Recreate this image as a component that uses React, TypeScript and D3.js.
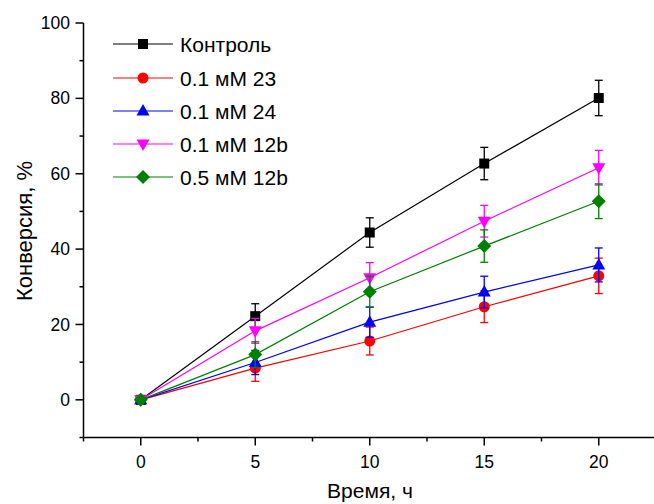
import React from "react";
import * as d3 from "d3";

const times = [0, 5, 10, 15, 20];
const seriesNames = ["Контроль", "0.1 мМ 23", "0.1 мМ 24", "0.1 мМ 12b", "0.5 мМ 12b"];
const seriesColors = ["#000000", "#ff0000", "#0000ff", "#ff00ff", "#008000"];
const seriesSymbols = ["square", "circle", "triangleUp", "triangleDown", "diamond"];
const control = [0, 22.2, 44.4, 62.7, 80.1];
const controlErr = [0, 3.3, 3.9, 4.3, 4.7];
const mM23 = [0, 8.4, 15.6, 24.7, 32.9];
const mM23Err = [0, 3.5, 3.7, 4.2, 4.7];
const mM24 = [0, 9.9, 20.6, 28.6, 35.8];
const mM24Err = [0, 3.2, 4.0, 4.2, 4.5];
const mM12b01 = [0, 18.3, 32.4, 47.4, 61.6];
const mM12b01Err = [0, 3.3, 4.0, 4.2, 4.6];
const mM12b05 = [0, 12.0, 28.7, 40.8, 52.7];
const mM12b05Err = [0, 3.4, 4.1, 4.3, 4.6];
const xTicks = [0, 5, 10, 15, 20];
const yTicks = [0, 20, 40, 60, 80, 100];
const xTitle = "Время, ч";
const yTitle = "Конверсия, %";

const allValues = [control, mM23, mM24, mM12b01, mM12b05];
const allErrs = [controlErr, mM23Err, mM24Err, mM12b01Err, mM12b05Err];

function Marker({ type, x, y, color }: { type: string; x: number; y: number; color: string }) {
  if (type === "square") return <rect x={x - 5} y={y - 5} width={10} height={10} fill={color} />;
  if (type === "circle") return <circle cx={x} cy={y} r={5.5} fill={color} />;
  if (type === "triangleUp")
    return <path d={`M${x},${y - 7}L${x + 6.5},${y + 4.5}L${x - 6.5},${y + 4.5}Z`} fill={color} />;
  if (type === "triangleDown")
    return <path d={`M${x},${y + 7}L${x + 6.5},${y - 4.5}L${x - 6.5},${y - 4.5}Z`} fill={color} />;
  return <path d={`M${x},${y - 7}L${x + 7},${y}L${x},${y + 7}L${x - 7},${y}Z`} fill={color} />;
}

export default function App() {
  const W = 654, H = 504;
  const x = d3.scaleLinear().domain([-2.5, 22.5]).range([83.5, 656]);
  const y = d3.scaleLinear().domain([-10, 100]).range([437.5, 23]);
  const font = "Arial, 'Liberation Sans', sans-serif";
  const line = d3.line<[number, number]>().x((d) => x(d[0])).y((d) => y(d[1]));
  const xMinor = d3.range(-2.5, 23, 2.5).filter((v) => !xTicks.includes(v));
  const yMinor = d3.range(-10, 101, 10).filter((v) => !yTicks.includes(v));
  const legendY = [44, 78, 111, 144, 177];

  return (
    <svg width={W} height={H} style={{ position: "absolute", left: 0, top: 0 }} fontFamily={font}>
      <rect width={W} height={H} fill="#fff" />
      {/* axes */}
      <line x1={83.5} x2={83.5} y1={23} y2={437.5} stroke="#000" strokeWidth={1.5} />
      <line x1={83.5} x2={656} y1={437.5} y2={437.5} stroke="#000" strokeWidth={1.5} />
      {yTicks.map((t) => (
        <g key={"yt" + t}>
          <line x1={75.5} x2={83.5} y1={y(t)} y2={y(t)} stroke="#000" strokeWidth={1.5} />
          <text x={70} y={y(t)} dy="0.35em" textAnchor="end" fontSize={17.5}>{t}</text>
        </g>
      ))}
      {yMinor.map((t) => (
        <line key={"ym" + t} x1={79.5} x2={83.5} y1={y(t)} y2={y(t)} stroke="#000" strokeWidth={1.5} />
      ))}
      {xTicks.map((t) => (
        <g key={"xt" + t}>
          <line x1={x(t)} x2={x(t)} y1={437.5} y2={445.5} stroke="#000" strokeWidth={1.5} />
          <text x={x(t)} y={467.5} textAnchor="middle" fontSize={17.5}>{t}</text>
        </g>
      ))}
      {xMinor.map((t) => (
        <line key={"xm" + t} x1={x(t)} x2={x(t)} y1={437.5} y2={441.5} stroke="#000" strokeWidth={1.5} />
      ))}
      <text x={370} y={498} textAnchor="middle" fontSize={21}>{xTitle}</text>
      <text transform="translate(32,231) rotate(-90)" textAnchor="middle" fontSize={22}>{yTitle}</text>

      {/* series */}
      {allValues.map((vals, si) => {
        const color = seriesColors[si];
        const pts = times.map((t, i) => [t, vals[i]] as [number, number]);
        return (
          <g key={"s" + si}>
            <path d={line(pts) || ""} fill="none" stroke={color} strokeWidth={1.2} />
            {times.map((t, i) => {
              const e = allErrs[si][i];
              if (!e) return null;
              const cx = x(t);
              return (
                <g key={"e" + i} stroke={color} strokeWidth={1.3}>
                  <line x1={cx} x2={cx} y1={y(vals[i] + e)} y2={y(vals[i] - e)} />
                  <line x1={cx - 4} x2={cx + 4} y1={y(vals[i] + e)} y2={y(vals[i] + e)} />
                  <line x1={cx - 4} x2={cx + 4} y1={y(vals[i] - e)} y2={y(vals[i] - e)} />
                </g>
              );
            })}
            {times.map((t, i) => (
              <Marker key={"m" + i} type={seriesSymbols[si]} x={x(t)} y={y(vals[i])} color={color} />
            ))}
          </g>
        );
      })}

      {/* legend */}
      {seriesNames.map((name, i) => (
        <g key={"l" + i}>
          <line x1={113} x2={173} y1={legendY[i]} y2={legendY[i]} stroke={seriesColors[i]} strokeWidth={1.2} />
          <Marker type={seriesSymbols[i]} x={143} y={legendY[i]} color={seriesColors[i]} />
          <text x={180} y={legendY[i]} dy="0.36em" fontSize={21}>{name}</text>
        </g>
      ))}
    </svg>
  );
}
